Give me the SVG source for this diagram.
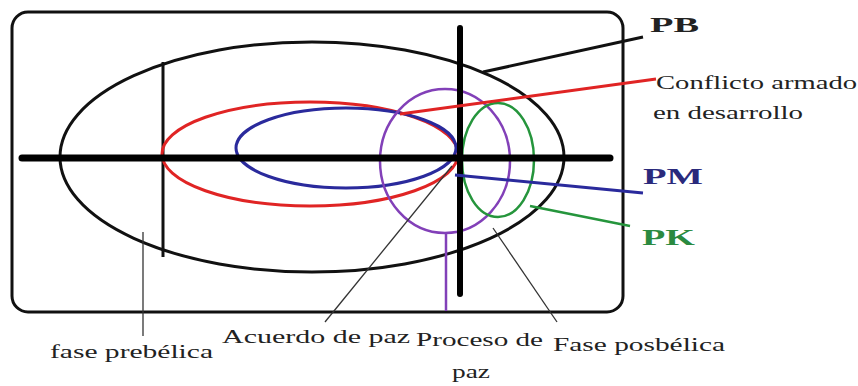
<svg xmlns="http://www.w3.org/2000/svg" width="858" height="386" viewBox="0 0 858 386">
<style>
.k{fill:none;stroke:#111;stroke-width:3}
.thin{fill:none;stroke:#333;stroke-width:1.3}
.red{fill:none;stroke:#e02424;stroke-width:3}
.blue{fill:none;stroke:#2a2a9c;stroke-width:3}
.pur{fill:none;stroke:#8240b8;stroke-width:2.5}
.grn{fill:none;stroke:#25953c;stroke-width:2.5}
text{font-family:"Liberation Serif","DejaVu Serif",serif;fill:#222;font-size:19px}
.b{font-weight:bold}
</style>
<rect width="858" height="386" fill="#fff"/>
<g id="frame">
<rect class="k" x="12" y="12" width="611" height="300" rx="16"/>
</g>
<g id="prebelica-ellipse">
<ellipse class="k" cx="312" cy="157" rx="252" ry="115"/>
<line class="k" x1="163" y1="62" x2="163" y2="257"/>
</g>
<g id="conflicto">
<ellipse class="red" cx="310" cy="154" rx="148" ry="52"/>
</g>
<g id="pm">
<ellipse class="blue" cx="346" cy="148" rx="110" ry="40"/>
</g>
<g id="proceso">
<ellipse class="pur" cx="445" cy="161" rx="65" ry="72"/>
<line class="pur" x1="446" y1="233" x2="446" y2="311" stroke-width="3"/>
</g>
<g id="pk">
<ellipse class="grn" cx="498" cy="160" rx="36" ry="57"/>
</g>
<g id="axes">
<line x1="22" y1="158" x2="610" y2="158" stroke="#000" stroke-width="7" stroke-linecap="round"/>
<line x1="460" y1="28" x2="460" y2="294" stroke="#000" stroke-width="6" stroke-linecap="round"/>
</g>
<g id="connectors">
<line class="k" x1="643" y1="37" x2="483" y2="72" stroke-width="2.5"/>
<line class="red" x1="400" y1="114" x2="656" y2="79" stroke-width="2.5"/>
<line class="blue" x1="455" y1="175" x2="643" y2="193" stroke-width="2.5"/>
<line class="grn" x1="530" y1="206" x2="630" y2="226"/>
<line class="thin" x1="143" y1="232" x2="143" y2="336"/>
<line class="thin" x1="325" y1="322" x2="452" y2="166"/>
<line class="thin" x1="493" y1="228" x2="557" y2="322"/>
</g>
<g id="labels">
<text class="b" x="650" y="32" style="font-size:22px" textLength="49" lengthAdjust="spacingAndGlyphs">PB</text>
<text x="656" y="89" textLength="201" lengthAdjust="spacingAndGlyphs">Conflicto armado</text>
<text x="653" y="119" textLength="150" lengthAdjust="spacingAndGlyphs">en desarrollo</text>
<text class="b" x="643" y="184" style="fill:#2a2a7c;font-size:23px" textLength="60" lengthAdjust="spacingAndGlyphs">PM</text>
<text class="b" x="642" y="245" style="fill:#2a8a40;font-size:23px" textLength="53" lengthAdjust="spacingAndGlyphs">PK</text>
<text x="50" y="358" textLength="163" lengthAdjust="spacingAndGlyphs">fase prebélica</text>
<text x="222" y="343" textLength="188" lengthAdjust="spacingAndGlyphs">Acuerdo de paz</text>
<text x="416" y="346" textLength="127" lengthAdjust="spacingAndGlyphs">Proceso de</text>
<text x="452" y="378" textLength="38" lengthAdjust="spacingAndGlyphs">paz</text>
<text x="553" y="351" textLength="172" lengthAdjust="spacingAndGlyphs">Fase posbélica</text>
</g>
</svg>
